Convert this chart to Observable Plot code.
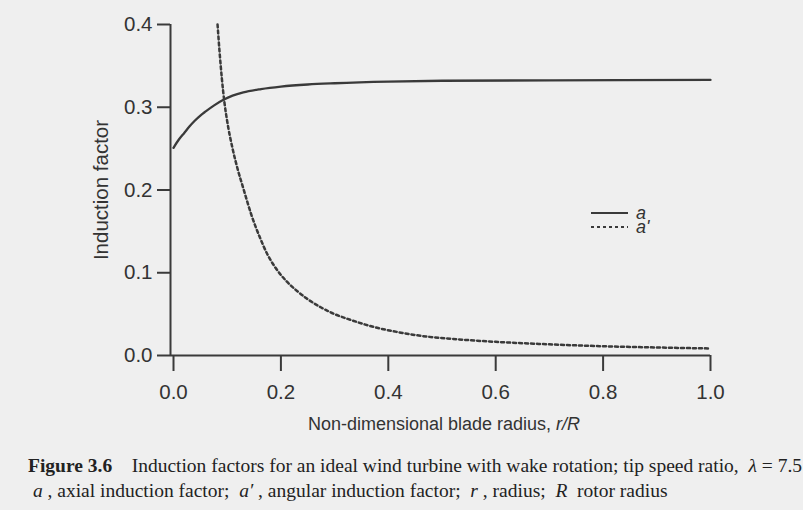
<!DOCTYPE html>
<html>
<head>
<meta charset="utf-8">
<script src="https://cdn.jsdelivr.net/npm/d3@7"></script>
<script src="https://cdn.jsdelivr.net/npm/@observablehq/plot@0.6"></script>
<style>
  html, body { margin: 0; padding: 0; background: #efefef; }
  #wrap { position: relative; width: 803px; height: 510px; overflow: hidden; background: #efefef; }
  #chart svg { display: block; }
  #chart g[aria-label$="axis tick"] path { stroke-width: 2px; }
  #legend { position: absolute; left: 591px; top: 206px; font: italic 18px "Liberation Sans", Arial, sans-serif; color: #333; line-height: 14px; }
  #legend div { display: flex; align-items: center; height: 14px; }
  #legend svg { margin-right: 8px; }
  #caption { position: absolute; left: 28px; top: 453px; font: 19.5px "Liberation Serif", "Times New Roman", serif; color: #222; line-height: 25px; white-space: nowrap; }
  #caption b { font-weight: bold; }
</style>
</head>
<body>
<div id="wrap">
  <div id="chart"></div>
  <div id="legend"></div>
  <div id="caption"></div>
</div>
<script>
// ---- data ----
const rA = [0, 0.01, 0.02, 0.03, 0.04, 0.05, 0.06, 0.075, 0.093, 0.11, 0.13, 0.163, 0.20, 0.25, 0.30, 0.40, 0.50, 0.70, 1.0];
const aAxial = [0.251, 0.261, 0.269, 0.277, 0.284, 0.290, 0.295, 0.302, 0.309, 0.314, 0.318, 0.322, 0.325, 0.3275, 0.329, 0.331, 0.332, 0.3325, 0.333];

const rAp = [0.082, 0.086, 0.090, 0.095, 0.100, 0.110, 0.120, 0.130, 0.145, 0.160, 0.175, 0.190, 0.210, 0.230, 0.250, 0.275, 0.300, 0.330, 0.370, 0.420, 0.470, 0.530, 0.600, 0.700, 0.800, 0.900, 1.000];
const aAngular = [0.400, 0.365, 0.335, 0.305, 0.283, 0.250, 0.224, 0.202, 0.170, 0.144, 0.122, 0.106, 0.090, 0.078, 0.068, 0.058, 0.050, 0.043, 0.035, 0.028, 0.023, 0.0195, 0.0165, 0.0135, 0.0112, 0.0097, 0.0085];

const xTicks = [0, 0.2, 0.4, 0.6, 0.8, 1.0];
const yTicks = [0, 0.1, 0.2, 0.3, 0.4];
const xDomain = [-0.0056, 1.0];
const yDomain = [0, 0.4];
const seriesNames = ["a", "a'"];
const xLabel = "Non-dimensional blade radius, ";
const xLabelItalic = "r/R";
const yLabel = "Induction factor";

// ---- build tables ----
const axial = rA.map((r, i) => ({r, v: aAxial[i]}));
const angular = rAp.map((r, i) => ({r, v: aAngular[i]}));

const ink = "#3a3a3a";
const fmt = d3.format(".1f");

const plot = Plot.plot({
  width: 803,
  height: 445,
  marginTop: 24,
  marginBottom: 90,
  marginLeft: 170,
  marginRight: 93,
  style: {background: "transparent", fontFamily: "'Liberation Sans', Arial, sans-serif", fontSize: "20px", color: "#333"},
  x: {domain: xDomain},
  y: {domain: yDomain},
  marks: [
    Plot.axisX({ticks: xTicks, tickFormat: fmt, tickSize: 16, tickPadding: 13, stroke: ink, strokeWidth: 2, label: null, fill: "#333"}),
    Plot.axisY({ticks: yTicks, tickFormat: fmt, tickSize: 13, tickPadding: 5, stroke: ink, strokeWidth: 2, label: null, fill: "#333"}),
    Plot.ruleX([xDomain[0]], {y1: yDomain[0], y2: yDomain[1], stroke: ink, strokeWidth: 2}),
    Plot.ruleY([yDomain[0]], {x1: xDomain[0], x2: xDomain[1], stroke: ink, strokeWidth: 2}),
    Plot.line(axial, {x: "r", y: "v", stroke: ink, strokeWidth: 2.3, curve: "monotone-x"}),
    Plot.line(angular, {x: "r", y: "v", stroke: ink, strokeWidth: 2.5, strokeDasharray: "3,3", curve: "monotone-x"}),
    Plot.text([yLabel], {frameAnchor: "left", dx: -69, rotate: -90, textAnchor: "middle", fill: "#333", text: d => d})
  ]
});
document.getElementById("chart").appendChild(plot);
const svg = d3.select(plot);
// tick labels and y label: set sizes inline
svg.selectAll("text").each(function() {
  const t = this.textContent;
  const size = t === yLabel ? "20.5px" : "20.5px";
  this.style.fontSize = size;
  this.style.fontFamily = "'Liberation Sans', Arial, sans-serif";
});

// x-axis label with italic r/R
const xt = svg.append("text")
  .attr("x", 444).attr("y", 430)
  .attr("text-anchor", "middle")
  .attr("fill", "#333")
  .style("font-size", "18px")
  .style("font-family", "'Liberation Sans', Arial, sans-serif");
xt.append("tspan").text(xLabel);
xt.append("tspan").attr("font-style", "italic").text(xLabelItalic);

// legend
const leg = d3.select("#legend");
seriesNames.forEach((name, i) => {
  const row = leg.append("div");
  const s = row.append("svg").attr("width", 37).attr("height", 6);
  s.append("line").attr("x1", 0).attr("x2", 37).attr("y1", 3).attr("y2", 3)
    .attr("stroke", ink).attr("stroke-width", 2)
    .attr("stroke-dasharray", i === 0 ? null : "3,3");
  row.append("span").text(name);
});

// caption
document.getElementById("caption").innerHTML =
  '<b>Figure 3.6</b>&nbsp;&nbsp;&nbsp; Induction factors for an ideal wind turbine with wake rotation; tip speed ratio,&nbsp; <i>λ</i> = 7.5<br>' +
  '&nbsp;<i>a</i> , axial induction factor;&nbsp; <i>a′</i> , angular induction factor;&nbsp; <i>r</i> , radius;&nbsp; <i>R</i>&nbsp; rotor radius';
</script>
</body>
</html>
